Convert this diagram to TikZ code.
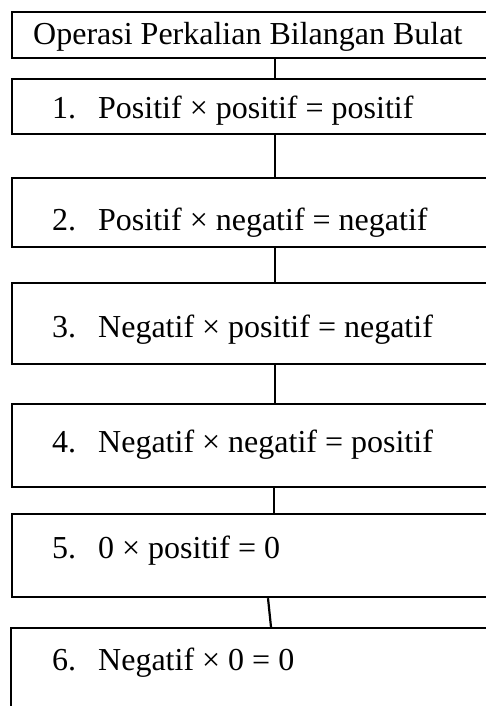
\documentclass[tikz,border=0pt]{standalone}
\usepackage{fontspec}
\setmainfont{Liberation Serif}
\begin{document}
\begin{tikzpicture}[x=1pt,y=1pt,
  box/.style={draw, line width=2.2pt, rectangle, anchor=north west, inner sep=0pt, minimum width=481pt},
  lbl/.style={anchor=base west, inner sep=0pt, font=\fontsize{32}{36}\selectfont},
  conn/.style={line width=2.2pt}]
\useasboundingbox (0,0) rectangle (485,-706);
% boxes
\node[box, minimum height=46pt] (b0) at (11,-11) {};
\node[box, minimum height=55pt] (b1) at (11,-78) {};
\node[box, minimum height=69pt] (b2) at (11,-177) {};
\node[box, minimum height=81pt] (b3) at (11,-282) {};
\node[box, minimum height=83pt] (b4) at (11,-403) {};
\node[box, minimum height=83pt] (b5) at (11,-513) {};
\node[box, minimum height=90pt] (b6) at (10,-627) {};
% texts
\node[lbl] (t0) at (33,-45) {Operasi Perkalian Bilangan Bulat};
\node[lbl] (n1) at (52,-118) {1.};
\node[lbl] (t1) at (98,-118) {Positif × positif = positif};
\node[lbl] (n2) at (52,-230) {2.};
\node[lbl] (t2) at (98,-230) {Positif × negatif = negatif};
\node[lbl] (n3) at (52,-337) {3.};
\node[lbl] (t3) at (98,-337) {Negatif × positif = negatif};
\node[lbl] (n4) at (52,-452) {4.};
\node[lbl] (t4) at (98,-452) {Negatif × negatif = positif};
\node[lbl] (n5) at (52,-558) {5.};
\node[lbl] (t5) at (98,-558) {0 × positif = 0};
\node[lbl] (n6) at (52,-670) {6.};
\node[lbl] (t6) at (98,-670) {Negatif × 0 = 0};
% connectors
\draw[conn] ([xshift=264pt]b0.south west) -- ([xshift=264pt]b1.north west);
\draw[conn] ([xshift=264pt]b1.south west) -- ([xshift=264pt]b2.north west);
\draw[conn] ([xshift=264pt]b2.south west) -- ([xshift=264pt]b3.north west);
\draw[conn] ([xshift=264pt]b3.south west) -- ([xshift=264pt]b4.north west);
\draw[conn] ([xshift=263pt]b4.south west) -- ([xshift=263pt]b5.north west);
\draw[conn] ([xshift=257pt]b5.south west) -- ([xshift=261pt]b6.north west);
\end{tikzpicture}
\end{document}
